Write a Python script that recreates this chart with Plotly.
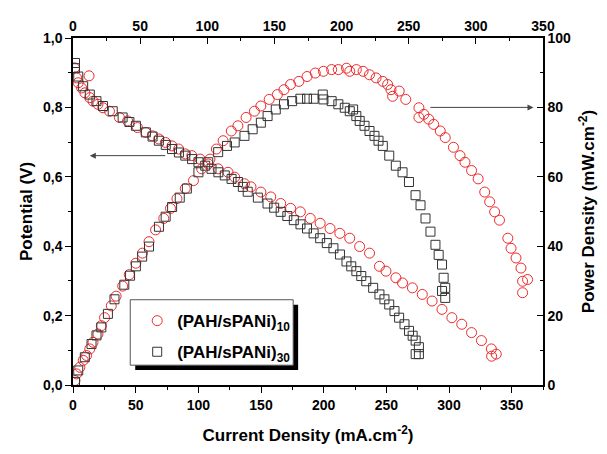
import plotly.graph_objects as go

# ---- Polarization curves (bottom axis: current density mA/cm2, left axis: potential V)
i_pot_10 = [1.2, 2.9, 4.2, 6.9, 9.5, 12.8, 13.4, 16.0, 19.9, 23.9, 29.1, 37.0, 43.6, 51.4, 58.1, 63.3,
            68.5, 73.8, 79.0, 84.3, 89.6, 94.8, 101.4, 107.9, 115.8, 123.7, 129.0, 136.8, 142.0,
            149.9, 157.8, 165.7, 173.6, 181.4, 189.3, 197.2, 205.1, 212.9, 220.8, 228.7, 236.6,
            244.5, 249.7, 257.6, 262.9, 270.8, 278.7, 286.5, 294.4, 302.3, 310.2, 318.0, 325.9,
            333.8, 337.7, 334.0]
v_pot_10 = [0.914, 0.885, 0.871, 0.856, 0.842, 0.891, 0.828, 0.818, 0.809, 0.799, 0.789, 0.771, 0.761,
            0.742, 0.728, 0.718, 0.709, 0.699, 0.689, 0.680, 0.666, 0.661, 0.651, 0.637, 0.623,
            0.613, 0.599, 0.580, 0.571, 0.556, 0.542, 0.523, 0.509, 0.499, 0.480, 0.466, 0.451,
            0.437, 0.423, 0.399, 0.380, 0.342, 0.328, 0.309, 0.294, 0.280, 0.261, 0.242, 0.218,
            0.194, 0.175, 0.151, 0.128, 0.104, 0.089, 0.083]

i_pot_30 = [1.6, 1.6, 4.2, 8.1, 13.4, 18.7, 23.9, 31.7, 39.6, 45.0, 50.2, 58.1, 63.5, 68.5, 74.0, 79.0,
            84.5, 89.6, 95.0, 100.1, 105.5, 110.5, 116.0, 121.1, 126.5, 131.6, 135.5, 139.4, 147.5,
            155.2, 160.5, 165.7, 171.0, 176.2, 181.5, 186.7, 192.0, 197.2, 202.5, 207.8, 213.0,
            218.2, 222.0, 226.1, 230.0, 234.0, 239.5, 244.5, 248.5, 252.3, 256.5, 260.2, 264.5,
            268.1, 271.0, 273.4, 276.0, 276.0, 273.4]
v_pot_30 = [0.928, 0.913, 0.889, 0.861, 0.837, 0.818, 0.804, 0.789, 0.771, 0.758, 0.747, 0.728, 0.716,
            0.704, 0.692, 0.680, 0.670, 0.661, 0.651, 0.642, 0.632, 0.623, 0.613, 0.604, 0.594,
            0.585, 0.571, 0.557, 0.540, 0.523, 0.511, 0.499, 0.487, 0.475, 0.463, 0.451, 0.437,
            0.423, 0.409, 0.394, 0.376, 0.356, 0.342, 0.328, 0.314, 0.299, 0.280, 0.261, 0.247,
            0.232, 0.213, 0.194, 0.175, 0.156, 0.142, 0.128, 0.109, 0.089, 0.089]

# ---- Power density curves (top axis: current density, right axis: mW/cm2)
i_pow_10 = [1.5, 2.7, 5.1, 7.6, 10.1, 12.5, 14.9, 18.6, 21.1, 23.5, 28.5, 32.1, 37.0, 41.9, 46.8, 51.7,
            56.6, 61.5, 67.6, 72.6, 77.4, 83.6, 89.7, 95.8, 102.0, 106.8, 111.8, 117.9, 122.8,
            128.9, 135.1, 139.9, 146.1, 152.2, 157.1, 162.0, 168.2, 174.3, 180.4, 186.5, 192.6,
            197.6, 203.7, 206.1, 211.0, 216.0, 220.8, 225.7, 230.7, 234.3, 236.8, 238.0, 242.9,
            247.8, 257.6, 257.6, 261.3, 264.9, 268.6, 273.5, 277.2, 283.3, 288.2, 291.9, 296.8,
            301.7, 306.6, 310.3, 314.0, 317.6, 323.8, 326.2, 329.9, 333.6, 338.5, 334.8, 334.8]
p_pow_10 = [1.3, 3.2, 5.1, 7.1, 8.5, 10.4, 12.3, 14.7, 17.1, 19.4, 22.8, 25.6, 28.5, 31.8, 35.1, 38.0,
            41.3, 44.7, 48.0, 50.9, 53.7, 56.6, 58.9, 62.3, 65.1, 68.0, 70.4, 73.2, 74.7, 77.1,
            78.9, 80.4, 82.3, 83.7, 85.1, 86.6, 87.5, 88.9, 89.9, 90.4, 90.9, 90.9, 91.3, 90.4,
            90.9, 90.4, 89.4, 88.5, 87.5, 86.6, 85.1, 83.2, 84.7, 82.3, 79.9, 77.1, 78.0, 76.6,
            75.1, 73.2, 71.3, 68.5, 66.1, 64.2, 61.8, 59.4, 55.6, 52.8, 49.9, 47.5, 42.3, 39.4,
            36.6, 33.7, 30.4, 29.9, 26.6]

i_pow_30 = [1.5, 3.9, 8.8, 13.8, 17.5, 21.1, 26.0, 30.9, 38.2, 42.5, 46.8, 51.5, 56.6, 64.0, 69.0, 73.8,
            79.5, 84.8, 93.4, 100.7, 108.1, 114.7, 120.4, 127.7, 133.8, 139.9, 144.9, 151.0, 157.1,
            163.2, 169.3, 174.3, 179.2, 186.0, 186.5, 192.6, 197.6, 202.4, 206.1, 208.6, 211.0,
            213.5, 217.1, 220.8, 224.5, 227.5, 230.7, 235.5, 240.4, 245.4, 250.2, 255.1, 258.8,
            262.5, 266.2, 269.9, 272.3, 274.8, 276.0, 277.2, 274.8, 277.2]
p_pow_30 = [0.9, 4.2, 8.0, 11.8, 14.3, 16.6, 20.5, 24.7, 28.9, 31.5, 34.2, 37.0, 39.9, 45.6, 48.5, 51.3,
            54.0, 56.6, 61.3, 64.2, 67.1, 68.9, 69.9, 71.8, 73.7, 75.6, 77.5, 79.4, 80.9, 81.8,
            82.5, 82.5, 82.5, 83.7, 82.3, 81.8, 80.9, 79.9, 78.9, 79.4, 77.5, 76.1, 74.7, 73.2,
            71.8, 70.4, 68.9, 66.1, 63.2, 61.3, 58.5, 54.7, 51.8, 48.0, 44.2, 40.4, 37.5, 34.7,
            30.9, 28.0, 27.1, 25.1]

names = ["(PAH/sPANi)<sub>10</sub>", "(PAH/sPANi)<sub>30</sub>"]
RED = "#ee2a2a"
BLK = "#333333"

FONT = "Liberation Sans"
tickfont = dict(family=FONT, size=14, color="black", weight="bold")
titlefont = dict(family=FONT, size=17, color="black", weight="bold")

fig = go.Figure()
fig.add_trace(go.Scatter(x=i_pot_10, y=v_pot_10, mode="markers", name=names[0], legendgroup="a",
                         marker=dict(symbol="circle-open", size=10, color=RED, line=dict(width=1, color=RED))))
fig.add_trace(go.Scatter(x=i_pot_30, y=v_pot_30, mode="markers", name=names[1], legendgroup="b",
                         marker=dict(symbol="square-open", size=9, color=BLK, line=dict(width=1, color=BLK))))
fig.add_trace(go.Scatter(x=i_pow_10, y=p_pow_10, mode="markers", showlegend=False,
                         xaxis="x2", yaxis="y2",
                         marker=dict(symbol="circle-open", size=10, color=RED, line=dict(width=1, color=RED))))
fig.add_trace(go.Scatter(x=i_pow_30, y=p_pow_30, mode="markers", showlegend=False,
                         xaxis="x2", yaxis="y2",
                         marker=dict(symbol="square-open", size=9, color=BLK, line=dict(width=1, color=BLK))))

axis_common = dict(showline=True, linecolor="black", linewidth=1.5, showgrid=False, zeroline=False,
                   tickfont=tickfont, ticklen=6, tickwidth=1.2, tickcolor="black")

fig.update_layout(
    width=607, height=454,
    margin=dict(l=73, r=58, t=38, b=66),
    paper_bgcolor="white", plot_bgcolor="white",
    separators=",.",
    showlegend=True,
    xaxis=dict(range=[0, 375], dtick=50, tick0=0, ticks="outside",
               minor=dict(dtick=25, ticks="outside", ticklen=3, tickcolor="black"),
               title=dict(text="Current Density (mA.cm<sup>-2</sup>)", font=titlefont, standoff=18),
               **axis_common),
    yaxis=dict(range=[0, 1.0], dtick=0.2, tick0=0, tickformat=".1f", ticks="outside",
               minor=dict(dtick=0.1, ticks="outside", ticklen=3, tickcolor="black"),
               title=dict(text="Potential (V)", font=titlefont, standoff=6),
               **axis_common),
    xaxis2=dict(range=[0, 350], dtick=50, tick0=0, ticks="inside", side="top",
                overlaying="x", anchor="y",
                minor=dict(dtick=25, ticks="inside", ticklen=3, tickcolor="black"),
                **axis_common),
    yaxis2=dict(range=[0, 100], dtick=20, tick0=0, ticks="inside", side="right",
                overlaying="y", anchor="x",
                minor=dict(dtick=10, ticks="inside", ticklen=3, tickcolor="black"),
                title=dict(text="Power Density (mW.cm<sup>-2</sup>)", font=titlefont, standoff=12),
                **axis_common),
    legend=dict(x=0.1366, y=0.236, xanchor="left", yanchor="top",
                bgcolor="rgba(0,0,0,0)", borderwidth=0, traceorder="grouped", tracegroupgap=6,
                font=dict(family=FONT, size=17, color="black", weight="bold")),
    shapes=[
        dict(type="rect", xref="paper", yref="paper", x0=0.1324, x1=0.479, y0=0.043, y1=0.2314,
             fillcolor="black", line=dict(width=0), layer="above"),
        dict(type="rect", xref="paper", yref="paper", x0=0.1218, x1=0.4685, y0=0.0571, y1=0.2457,
             fillcolor="white", line=dict(width=1, color="#555555"), layer="above"),
    ],
    annotations=[
        dict(x=13.4, y=0.661, ax=74.8, ay=0.661, xref="x", yref="y", axref="x", ayref="y",
             text="", showarrow=True, arrowhead=2, arrowsize=1.2, arrowwidth=1, arrowcolor="#444444"),
        dict(x=342.9, y=80, ax=265, ay=80, xref="x2", yref="y2", axref="x2", ayref="y2",
             text="", showarrow=True, arrowhead=2, arrowsize=1.2, arrowwidth=1, arrowcolor="#444444"),
    ],
)

fig.write_html("out.html")
